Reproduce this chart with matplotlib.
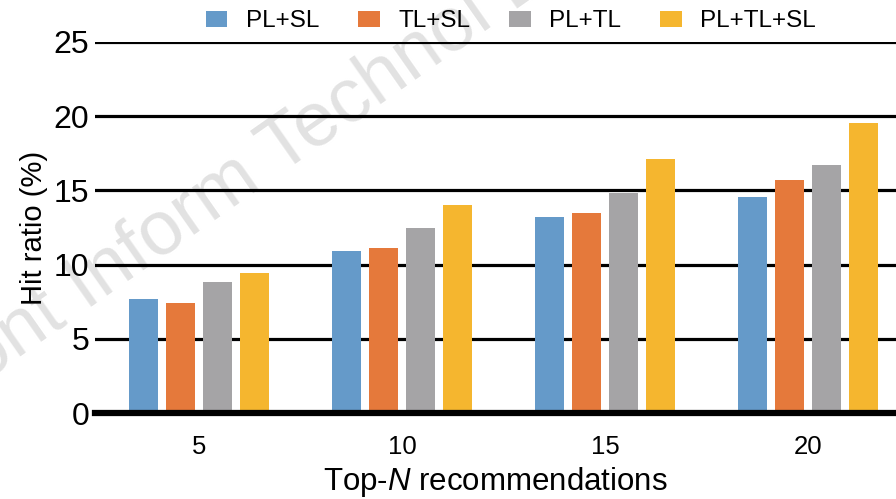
import numpy as np
import matplotlib.pyplot as plt

plt.rcParams['font.family'] = ['Liberation Sans', 'DejaVu Sans']
plt.rcParams['mathtext.fontset'] = 'custom'
plt.rcParams['mathtext.it'] = 'Liberation Sans:italic'
plt.rcParams['mathtext.rm'] = 'Liberation Sans'

# Data
top_n = ['5', '10', '15', '20']
series = ['PL+SL', 'TL+SL', 'PL+TL', 'PL+TL+SL']
pl_sl = [7.7, 10.9, 13.2, 14.55]
tl_sl = [7.45, 11.15, 13.45, 15.7]
pl_tl = [8.8, 12.45, 14.8, 16.7]
pl_tl_sl = [9.45, 14.05, 17.1, 19.55]
values = [pl_sl, tl_sl, pl_tl, pl_tl_sl]
colors = ['#659AC9', '#E5793B', '#A5A4A6', '#F5B62F']

fig = plt.figure(figsize=(8.96, 4.99), dpi=100)
ax = fig.add_axes([0.106, 0.172, 0.894, 0.744])
ax.set_facecolor('none')

x = np.arange(len(top_n))
pitch = 0.182
width = 0.145
for i, (vals, name, c) in enumerate(zip(values, series, colors)):
    ax.bar(x + (i - 1.5) * pitch, vals, width, color=c, label=name, zorder=2)

ax.set_xlim(-0.512, 3.433)
ax.set_ylim(0, 25)
ax.set_yticks([0, 5, 10, 15, 20, 25])
ax.set_xticks(x)
ax.set_xticklabels(top_n)
ax.yaxis.grid(True, color='black', lw=2.3)
ax.set_axisbelow(True)

for s in ['top', 'right', 'left']:
    ax.spines[s].set_visible(False)
ax.spines['bottom'].set_linewidth(4.5)
ax.spines['bottom'].set_zorder(3)

ax.tick_params(axis='y', length=0, pad=4, labelsize=23)
ax.tick_params(axis='x', length=0, pad=16, labelsize=18.5)
ax.set_ylabel('Hit ratio (%)', fontsize=21, labelpad=4)
ax.set_xlabel('Top-$\\mathit{N}$ recommendations', fontsize=22.5, labelpad=4)

fig.legend(loc='center', bbox_to_anchor=(0.57, 0.957), ncol=4, frameon=False,
           fontsize=17.5, handlelength=0.9, handleheight=0.6,
           handletextpad=0.75, columnspacing=1.6, borderpad=0)

# faint journal watermark
fig.text(-0.086, 0.148, 'Front Inform Technol Electron Eng', fontsize=55,
         color='#e2e2e2', rotation=35, rotation_mode='anchor',
         ha='left', va='baseline', zorder=-1)

fig.savefig('out.png', dpi=100)
